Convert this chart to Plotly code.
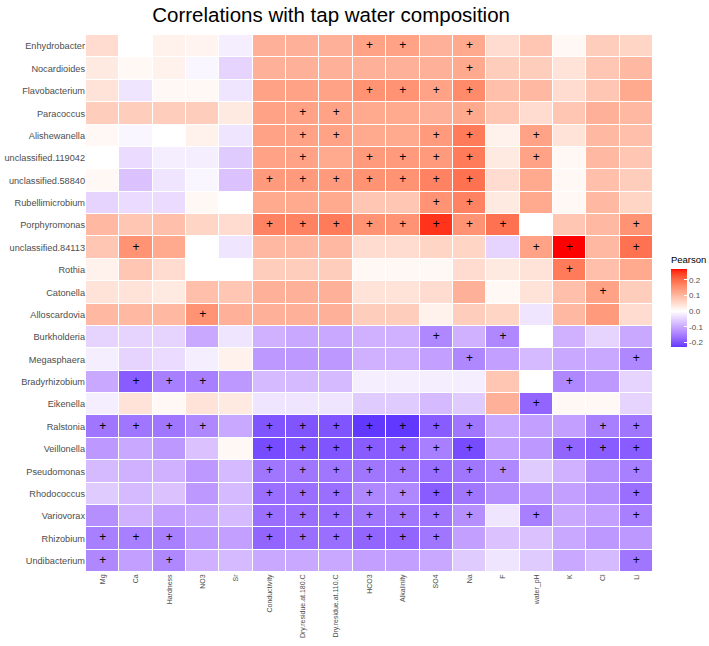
import numpy as np
import plotly.graph_objects as go

columns = ["Mg", "Ca", "Hardness", "NO3", "Sr", "Conductivity", "Dry.residue.at.180.C",
           "Dry.residue.at.110.C", "HCO3", "Alkalinity", "SO4", "Na", "F", "water_pH", "K", "Cl", "Li"]

taxa = ["Enhydrobacter", "Nocardioides", "Flavobacterium", "Paracoccus", "Alishewanella",
        "unclassified.119042", "unclassified.58840", "Rubellimicrobium", "Porphyromonas",
        "unclassified.84113", "Rothia", "Catonella", "Alloscardovia", "Burkholderia",
        "Megasphaera", "Bradyrhizobium", "Eikenella", "Ralstonia", "Veillonella",
        "Pseudomonas", "Rhodococcus", "Variovorax", "Rhizobium", "Undibacterium"]

pearson = [
    [0.05, 0.0, 0.02, 0.015, -0.02, 0.11, 0.11, 0.11, 0.13, 0.13, 0.11, 0.12, 0.05, 0.08, 0.01, 0.07, 0.06],
    [0.03, 0.01, 0.02, -0.01, -0.05, 0.11, 0.11, 0.11, 0.11, 0.11, 0.11, 0.12, 0.07, 0.07, 0.04, 0.08, 0.1],
    [0.04, -0.03, 0.01, 0.01, -0.03, 0.13, 0.13, 0.13, 0.15, 0.15, 0.13, 0.16, 0.09, 0.1, 0.05, 0.08, 0.12],
    [0.07, 0.07, 0.07, 0.07, 0.03, 0.13, 0.13, 0.13, 0.12, 0.12, 0.11, 0.12, 0.08, 0.05, 0.08, 0.11, 0.1],
    [0.01, -0.01, 0.0, 0.02, -0.03, 0.13, 0.13, 0.13, 0.12, 0.12, 0.14, 0.18, 0.02, 0.13, 0.04, 0.1, 0.09],
    [0.0, -0.04, -0.02, -0.02, -0.06, 0.13, 0.13, 0.12, 0.14, 0.14, 0.14, 0.18, 0.03, 0.13, 0.01, 0.1, 0.08],
    [0.01, -0.07, -0.03, -0.01, -0.07, 0.14, 0.14, 0.14, 0.15, 0.15, 0.17, 0.19, 0.05, 0.12, 0.01, 0.09, 0.07],
    [-0.05, -0.04, -0.04, 0.01, 0.0, 0.12, 0.12, 0.12, 0.08, 0.08, 0.15, 0.17, 0.03, 0.12, 0.01, 0.1, 0.06],
    [0.1, 0.08, 0.09, 0.06, 0.05, 0.17, 0.17, 0.18, 0.15, 0.15, 0.25, 0.15, 0.19, 0.0, 0.08, 0.1, 0.15],
    [0.08, 0.15, 0.12, 0.0, -0.03, 0.1, 0.1, 0.1, 0.05, 0.05, 0.06, 0.06, -0.05, 0.13, 0.27, 0.1, 0.19],
    [0.02, 0.08, 0.05, 0.0, 0.0, 0.07, 0.07, 0.07, 0.01, 0.01, 0.01, 0.05, 0.03, 0.04, 0.18, 0.09, 0.12],
    [0.04, 0.04, 0.03, 0.09, 0.08, 0.11, 0.11, 0.11, 0.04, 0.04, 0.05, 0.11, 0.01, 0.04, 0.09, 0.13, 0.07],
    [0.1, 0.1, 0.1, 0.15, 0.11, 0.11, 0.11, 0.11, 0.07, 0.07, 0.02, 0.07, 0.06, -0.03, 0.1, 0.14, 0.05],
    [-0.05, -0.05, -0.05, -0.1, -0.03, -0.09, -0.1, -0.1, -0.09, -0.09, -0.14, -0.09, -0.14, 0.0, -0.09, -0.05, -0.1],
    [-0.02, -0.05, -0.04, -0.02, 0.02, -0.12, -0.12, -0.12, -0.09, -0.09, -0.11, -0.14, -0.11, -0.08, -0.1, -0.1, -0.14],
    [-0.1, -0.19, -0.15, -0.15, -0.12, -0.08, -0.08, -0.08, -0.02, -0.02, -0.02, -0.02, 0.08, 0.0, -0.14, -0.12, -0.05],
    [-0.02, 0.04, 0.01, 0.04, 0.03, -0.03, -0.03, -0.03, -0.06, -0.06, -0.08, -0.06, 0.11, -0.18, 0.01, 0.01, -0.05],
    [-0.16, -0.16, -0.16, -0.14, -0.1, -0.2, -0.2, -0.2, -0.23, -0.23, -0.19, -0.16, -0.1, -0.11, -0.11, -0.15, -0.16],
    [-0.12, -0.1, -0.12, -0.07, 0.01, -0.21, -0.2, -0.2, -0.19, -0.19, -0.15, -0.21, -0.11, -0.12, -0.18, -0.19, -0.19],
    [-0.08, -0.09, -0.09, -0.12, -0.08, -0.16, -0.16, -0.16, -0.16, -0.16, -0.17, -0.16, -0.14, -0.06, -0.09, -0.13, -0.15],
    [-0.06, -0.08, -0.07, -0.12, -0.08, -0.17, -0.17, -0.17, -0.14, -0.14, -0.19, -0.16, -0.13, -0.12, -0.11, -0.13, -0.17],
    [-0.13, -0.09, -0.11, -0.1, -0.08, -0.17, -0.17, -0.17, -0.16, -0.16, -0.16, -0.13, -0.03, -0.15, -0.1, -0.11, -0.15],
    [-0.15, -0.15, -0.15, -0.12, -0.11, -0.18, -0.17, -0.17, -0.18, -0.18, -0.16, -0.11, -0.07, -0.07, -0.1, -0.12, -0.12],
    [-0.14, -0.11, -0.14, -0.09, -0.08, -0.1, -0.1, -0.1, -0.11, -0.11, -0.1, -0.06, -0.03, -0.06, -0.1, -0.08, -0.16],
]

# significant cells: column indices per taxon (same order as taxa)
significant = [
    [8, 9, 11],
    [11],
    [8, 9, 10, 11],
    [6, 7, 11],
    [6, 7, 10, 11, 13],
    [6, 8, 9, 10, 11, 13],
    [5, 6, 7, 8, 9, 10, 11],
    [10, 11],
    [5, 6, 7, 8, 9, 10, 11, 12, 16],
    [1, 13, 14, 16],
    [14],
    [15],
    [3],
    [10, 12],
    [11, 16],
    [1, 2, 3, 14],
    [13],
    [0, 1, 2, 3, 5, 6, 7, 8, 9, 10, 11, 15, 16],
    [5, 6, 7, 8, 9, 10, 11, 14, 15, 16],
    [5, 6, 7, 8, 9, 10, 11, 12, 16],
    [5, 6, 7, 8, 9, 10, 11, 16],
    [5, 6, 7, 8, 9, 10, 11, 13, 16],
    [0, 1, 2, 5, 6, 7, 8, 9, 10],
    [0, 2, 16],
]

colorbar_ticks = [0.2, 0.1, 0.0, -0.1, -0.2]
colorbar_ticktext = ["0.2", "0.1", "0.0", "-0.1", "-0.2"]


# ---- diverging Lab colour ramp (white midpoint at 0) ----
def srgb_to_lab(rgb):
    c = np.array(rgb, dtype=float) / 255.0
    c = np.where(c > 0.04045, ((c + 0.055) / 1.055) ** 2.4, c / 12.92)
    M = np.array([[0.4124, 0.3576, 0.1805], [0.2126, 0.7152, 0.0722], [0.0193, 0.1192, 0.9505]])
    xyz = M @ c
    xyz = xyz / np.array([0.95047, 1.0, 1.08883])
    f = np.where(xyz > 0.008856, np.cbrt(xyz), 7.787 * xyz + 16 / 116)
    return np.array([116 * f[1] - 16, 500 * (f[0] - f[1]), 200 * (f[1] - f[2])])


def lab_to_srgb(lab):
    L, a, b = lab
    fy = (L + 16) / 116
    fx = fy + a / 500
    fz = fy - b / 200
    f = np.array([fx, fy, fz])
    xyz = np.where(f ** 3 > 0.008856, f ** 3, (f - 16 / 116) / 7.787)
    xyz = xyz * np.array([0.95047, 1.0, 1.08883])
    Minv = np.array([[3.2406, -1.5372, -0.4986], [-0.9689, 1.8758, 0.0415], [0.0557, -0.2040, 1.0570]])
    c = Minv @ xyz
    c = np.where(c > 0.0031308, 1.055 * np.clip(c, 0, None) ** (1 / 2.4) - 0.055, 12.92 * c)
    c = np.clip(c, 0, 1) * 255
    return "rgb(%d,%d,%d)" % tuple(np.round(c).astype(int))


low = srgb_to_lab((0, 0, 255))
mid = srgb_to_lab((255, 255, 255))
high = srgb_to_lab((255, 0, 0))

z = np.array(pearson)
zmin, zmax = float(z.min()), float(z.max())
M = max(abs(zmin), abs(zmax))
colorscale = []
for p in np.linspace(0, 1, 101):
    v = zmin + p * (zmax - zmin)
    t = v / M
    if t < 0:
        lab = mid + (-t) * (low - mid)
    else:
        lab = mid + t * (high - mid)
    colorscale.append([float(p), lab_to_srgb(lab)])

fig = go.Figure()
fig.add_trace(go.Heatmap(
    z=pearson, x=columns, y=taxa, zmin=zmin, zmax=zmax,
    colorscale=colorscale, xgap=1, ygap=1, hoverongaps=False,
    colorbar=dict(
        title=dict(text="Pearson", side="top", font=dict(size=9.5, color="#000000")),
        tickvals=colorbar_ticks, ticktext=colorbar_ticktext,
        tickfont=dict(size=8, color="#4D4D4D"),
        ticks="inside", tickcolor="white", ticklen=3,
        lenmode="pixels", len=94, thicknessmode="pixels", thickness=16,
        x=1.0317, xanchor="left", y=0.419, yanchor="bottom",
        xpad=0, ypad=0, outlinewidth=0,
    ),
))

sx, sy = [], []
for i, cols in enumerate(significant):
    for j in cols:
        sx.append(columns[j])
        sy.append(taxa[i])
fig.add_trace(go.Scatter(
    x=sx, y=sy, mode="text", text=["+"] * len(sx),
    textfont=dict(size=12, color="#000000"), hoverinfo="skip", showlegend=False,
))

fig.update_layout(
    width=709, height=646,
    margin=dict(l=86, r=56, t=35, b=74, autoexpand=False),
    paper_bgcolor="white", plot_bgcolor="white",
    font=dict(family="Liberation Sans, Arial, sans-serif"),
    title=dict(text="Correlations with tap water composition", x=0.467, xanchor="center",
               y=0.977, yanchor="middle", font=dict(size=20.5, color="#000000")),
    showlegend=False,
)
fig.update_xaxes(tickangle=-90, tickfont=dict(size=7, color="#4D4D4D"), showgrid=False,
                 zeroline=False, ticks="", ticklen=0, automargin=False,
                 categoryorder="array", categoryarray=columns,
                 range=[-0.5, len(columns) - 0.5], autorange=False)
fig.update_yaxes(tickfont=dict(size=9.2, color="#4D4D4D"), showgrid=False,
                 zeroline=False, ticks="", automargin=False,
                 categoryorder="array", categoryarray=taxa,
                 range=[len(taxa) - 0.5, -0.5], autorange=False)

# remove the default 8px page margin so the 709x646 figure fills the window exactly
fig.write_html("out.html", config={"displayModeBar": False},
               post_script="document.body.style.margin='0';")
